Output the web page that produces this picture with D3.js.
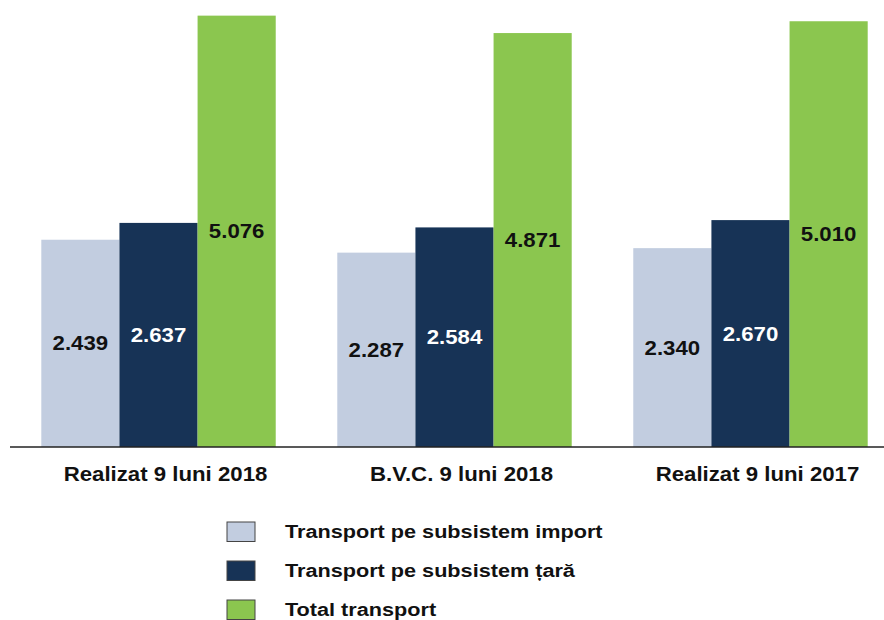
<!DOCTYPE html>
<html>
<head>
<meta charset="utf-8">
<script src="https://cdn.jsdelivr.net/npm/d3@7"></script>
<style>
  html, body { margin: 0; padding: 0; background: #fff; }
  svg { display: block; }
  text { font-family: "Liberation Sans", Arial, sans-serif; font-weight: bold; }
</style>
</head>
<body>
<svg id="chart" width="884" height="620"></svg>
<script>
const categories = ["Realizat 9 luni 2018", "B.V.C. 9 luni 2018", "Realizat 9 luni 2017"];
const seriesNames = ["Transport pe subsistem import", "Transport pe subsistem țară", "Total transport"];
const importValues = [2.439, 2.287, 2.340];
const taraValues   = [2.637, 2.584, 2.670];
const totalValues  = [5.076, 4.871, 5.010];
const valueLabels = {
  import: ["2.439", "2.287", "2.340"],
  tara:   ["2.637", "2.584", "2.670"],
  total:  ["5.076", "4.871", "5.010"]
};

const seriesKeys = ["import", "tara", "total"];
const seriesValues = { import: importValues, tara: taraValues, total: totalValues };
const colors = { import: "#c2cde0", tara: "#173356", total: "#8bc64f" };
const labelColors = { import: "#111111", tara: "#ffffff", total: "#111111" };

const svg = d3.select("#chart");
const SX = 1.14;

const baseY = 447;
const y = d3.scaleLinear().domain([0, 5.26]).range([baseY, 0]);
const x0 = d3.scaleBand().domain(categories).range([41.3, 867.7]).paddingInner(0.208).paddingOuter(0);
const x1 = d3.scaleBand().domain(seriesKeys).range([0, x0.bandwidth()]).padding(0);

const rows = categories.map((c, i) => ({
  cat: c,
  items: seriesKeys.map(k => ({ key: k, value: seriesValues[k][i], label: valueLabels[k][i] }))
}));

const groups = svg.append("g").selectAll("g.grp").data(rows).join("g")
  .attr("class", "grp")
  .attr("transform", d => `translate(${x0(d.cat)},0)`);

groups.selectAll("rect").data(d => d.items).join("rect")
  .attr("x", d => x1(d.key))
  .attr("width", x1.bandwidth())
  .attr("y", d => y(d.value))
  .attr("height", d => y(0) - y(d.value))
  .attr("fill", d => colors[d.key]);

groups.selectAll("g.vl").data(d => d.items).join("g")
  .attr("class", "vl")
  .attr("transform", d => `translate(${x1(d.key) + x1.bandwidth() / 2},${(y(d.value) + y(0)) / 2}) scale(${SX},1)`)
  .append("text")
  .attr("text-anchor", "middle")
  .attr("dy", "0.36em")
  .attr("font-size", 19.5)
  .attr("fill", d => labelColors[d.key])
  .text(d => d.label);

// axis baseline
svg.append("line")
  .attr("x1", 10).attr("x2", 884)
  .attr("y1", baseY).attr("y2", baseY)
  .attr("stroke", "#222").attr("stroke-width", 1.3);

// category labels
svg.append("g").selectAll("g").data(categories).join("g")
  .attr("transform", d => `translate(${x0(d) + x0.bandwidth() / 2 + 7},481) scale(${SX},1)`)
  .append("text")
  .attr("text-anchor", "middle")
  .attr("font-size", 19.5)
  .attr("fill", "#111")
  .text(d => d);

// legend
const legend = svg.append("g").selectAll("g").data(seriesKeys).join("g")
  .attr("transform", (d, i) => `translate(0,${i * 39})`);
legend.append("rect")
  .attr("x", 227).attr("y", 522)
  .attr("width", 28).attr("height", 19.5)
  .attr("fill", d => colors[d])
  .attr("stroke", "#444").attr("stroke-width", 1);
legend.append("g")
  .attr("transform", `translate(285,538) scale(${SX},1)`)
  .append("text")
  .attr("font-size", 19)
  .attr("fill", "#111")
  .text((d, i) => seriesNames[i]);
</script>
</body>
</html>
